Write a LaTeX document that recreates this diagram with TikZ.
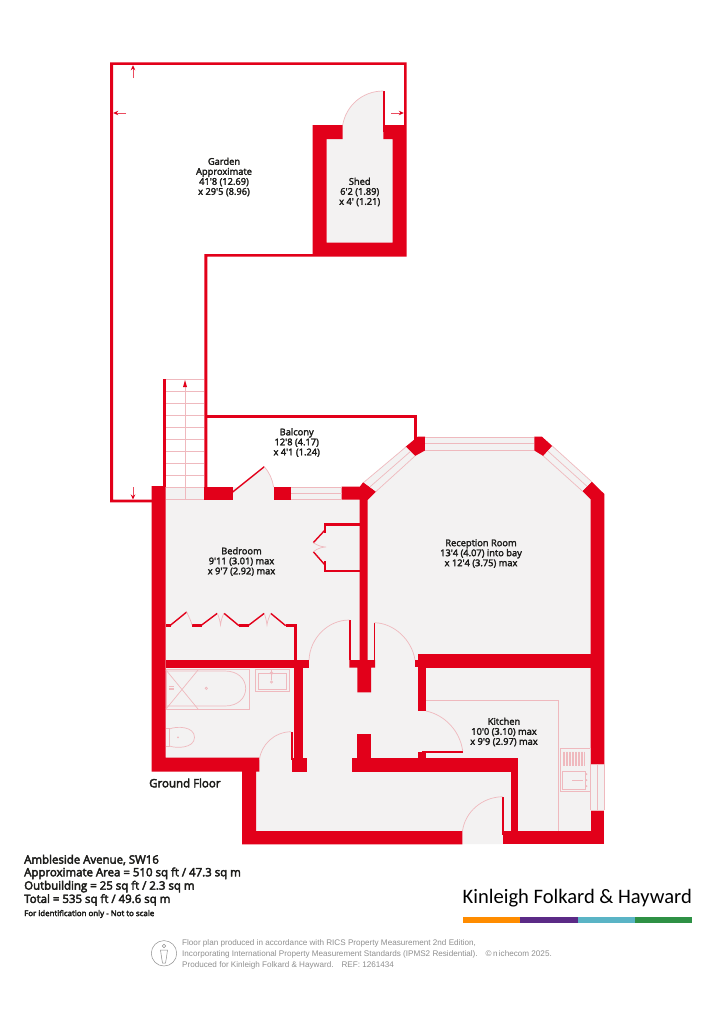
\documentclass[tikz,border=0pt]{standalone}
\usepackage{fontspec}
\setmainfont{Open Sans}
\newfontfamily\labfont{Open Sans}
\newfontfamily\boldfont{Open Sans}
\newfontfamily\footfont{Liberation Sans}
\newfontfamily\logofont{Carlito}
\newcommand{\strk}[2]{\special{pdf:code 2 Tr #1 w}#2\special{pdf:code 0 Tr}}
\usetikzlibrary{arrows.meta}
\definecolor{wallred}{HTML}{E2001A}
\definecolor{pinkline}{HTML}{EFB9BE}
\definecolor{floorgrey}{HTML}{F3F2F2}
\definecolor{inktext}{HTML}{1D1D1B}
\definecolor{footgrey}{HTML}{8F8F8F}
\tikzset{
  wall/.style={fill=wallred,draw=none},
  thinwall/.style={draw=wallred,line width=2pt,line cap=butt},
  leaf/.style={draw=wallred,line width=1.4pt},
  fine/.style={draw=pinkline,line width=0.7pt},
  floorfill/.style={fill=floorgrey,draw=none},
  dimarrow/.style={draw=wallred!70!white,line width=0.9pt,-{Stealth[length=5pt,width=4.5pt,color=wallred]}},
  roomlabel/.style={align=center,font=\labfont\fontsize{9.3}{10}\selectfont,text=inktext,inner sep=0pt},
  infoline/.style={anchor=west,font=\boldfont\fontsize{11.45}{12}\selectfont,text=inktext,inner sep=0pt},
  footline/.style={anchor=west,font=\footfont\fontsize{8.13}{10}\selectfont,text=footgrey,inner sep=0pt},
}
\begin{document}
\begin{tikzpicture}[x=1pt,y=-1pt]
\useasboundingbox (0,0) rectangle (715,1033);
\fill[white] (0,0) rectangle (715,1033);
% floor
\fill[floorfill] (152,486) -- (362,486) -- (405,447) -- (418,437) -- (541,437) -- (604,494) -- (604,844) -- (242,844) -- (242,771) -- (152,771) -- cycle;
% stairs white above the last tread
\fill[white] (166,379) rectangle (204.5,487);
\fill[white] (205,486.5) rectangle (362,380);
\fill[white] (362,486) -- (405,447) -- (360,447) -- cycle;
% shed floor and door swing
\fill[floorfill] (326.7,139) rectangle (392.7,242.7);
\fill[floorfill] (342.7,139) -- (342.7,125) .. controls (346,106) and (362,91) .. (383.3,91) -- (383.3,139) -- cycle;
% balcony door swing
\fill[floorfill] (233,487) -- (233,492) -- (264.3,466.7) .. controls (269,472) and (272.5,479) .. (273.5,487) -- cycle;
% garden outline
\fill[wall] (110,62.3) -- (406.7,62.3) -- (406.7,256.7) -- (207.3,256.7) -- (207.3,487) -- (204.3,487) -- (204.3,254) -- (312.7,254) -- (312.7,125) -- (342.7,125) -- (342.7,139) -- (326.7,139) -- (326.7,242.7) -- (392.7,242.7) -- (392.7,139) -- (383.3,139) -- (383.3,125) -- (404,125) -- (404,65) -- (113,65) -- (113,499.7) -- (152,499.7) -- (152,502.3) -- (110,502.3) -- cycle;
\draw[thinwall] (384,91) -- (384,132);
\draw[fine] (342.7,125) .. controls (346,106) and (362,91) .. (383.3,91);
% stairs
\fill[wall] (162.7,379) rectangle (165.7,487);
\foreach \yy in {379,391,403,415,427,439,451,463,475,487,499.3}{\draw[fine] (166,\yy) -- (204.3,\yy);}
\draw[fine] (185,499) -- (185,385);
\fill[wallred] (185,380) -- (187,387) -- (183,387) -- cycle;
% balcony
\fill[wall] (207,415) rectangle (416.7,417.7);
\fill[wall] (414,415) rectangle (416.7,442);
% main walls
\fill[wall] (151.7,486) -- (165.7,486) -- (165.7,757.7) -- (259.3,757.7) -- (259.3,771.7) -- (256,771.7) -- (256,831) -- (462.3,831) -- (462.3,844.3) -- (242,844.3) -- (242,771.7) -- (151.7,771.7) -- cycle;
\fill[wall] (204.3,486.5) rectangle (232.7,499.5);
\fill[wall] (273.7,486.5) rectangle (291,499.5);
\fill[wall] (341.7,486.5) -- (360,486.5) -- (363.3,482) -- (376,491.7) -- (367.5,500) -- (367.5,660) -- (375,660) -- (375,667.7) -- (371,667.7) -- (371,692.3) -- (357.3,692.3) -- (357.3,667.7) -- (349.3,667.7) -- (349.3,660) -- (359.5,660) -- (359.5,499.5) -- (341.7,499.5) -- cycle;
% bay blocks
\fill[wall] (405.7,446.7) -- (418,436.5) -- (425,436.5) -- (425,450.5) -- (415,456) -- cycle;
\fill[wall] (534.3,436.5) -- (541.7,436.5) -- (552.3,446) -- (543.3,456) -- (534.3,450.5) -- cycle;
\fill[wall] (582.3,491) -- (591.7,481.7) -- (604.3,494) -- (604.3,764.3) -- (590.7,764.3) -- (590.7,499.3) -- cycle;
\fill[wall] (590.7,810) rectangle (604.3,831);
\fill[wall] (503.3,831) rectangle (604.3,844.3);
% windows
\draw[fine] (291,487) -- (341.7,487) (291,493) -- (341.7,493) (291,499.3) -- (341.7,499.3);
\fill[floorfill] (425,437) rectangle (534.3,450.5);
\draw[fine] (425,437) -- (534.3,437) (425,443.5) -- (534.3,443.5) (425,450.5) -- (534.3,450.5);
\fill[floorfill] (363.6,482.5) -- (405.9,447) -- (415,456) -- (376,491.5) -- cycle;
\draw[fine] (363.6,482.5) -- (405.9,447) (369.8,487) -- (410.4,451.5) (376,491.5) -- (415,456);
\fill[floorfill] (552.3,446) -- (591.7,481.7) -- (582.3,491) -- (543.3,456) -- cycle;
\draw[fine] (552.3,446) -- (591.7,481.7) (547.8,451) -- (587,486.3) (543.3,456) -- (582.3,491);
\fill[floorfill] (590.7,764.3) rectangle (604.3,810);
\draw[fine] (590.7,764.3) -- (590.7,810) (597.5,764.3) -- (597.5,810) (604.3,764.3) -- (604.3,810) (590.7,764.3) -- (604.3,764.3) (590.7,810) -- (604.3,810);
% balcony door
\draw[leaf] (232.7,492) -- (264.3,466.7);
\draw[fine] (264.3,466.7) .. controls (269,472) and (272.5,479) .. (273.5,487);
% cupboard
\fill[wall] (324,523) rectangle (359.5,525.5);
\fill[wall] (324,569.7) rectangle (359.5,572.2);
\fill[wall] (324,523) rectangle (326.3,533);
\fill[wall] (324,561) rectangle (326.3,572);
\draw[leaf] (325,530) -- (313.3,542.7);
\draw[leaf] (325,565) -- (313.3,551.7);
\draw[fine] (313.3,542.7) .. controls (318,546) and (323,547) .. (326,547) .. controls (323,547) and (318,548) .. (313.3,551.7);
% wardrobe
\fill[wall] (165.7,624.2) rectangle (170.7,626.6);
\fill[wall] (191.7,624.2) rectangle (201.7,626.6);
\fill[wall] (239,624.2) rectangle (249,626.6);
\fill[wall] (285.7,624.2) rectangle (296.7,626.6);
\fill[wall] (294.4,624.2) rectangle (296.7,660);
\draw[leaf] (170.7,625) -- (186.7,612);
\draw[leaf] (201.7,625) -- (217.3,613.3);
\draw[leaf] (224,613.3) -- (239,625.7);
\draw[leaf] (249,625) -- (264.3,613.3);
\draw[leaf] (270.7,613.3) -- (285.7,625.7);
\draw[fine] (186.7,612) .. controls (189,617) and (191,621) .. (192,625);
\draw[fine] (217.3,613.3) .. controls (219,617) and (220,621) .. (220.5,625) .. controls (221,621) and (222,617) .. (224,613.3);
\draw[fine] (264.3,613.3) .. controls (265.5,617) and (266.5,621) .. (267,625) .. controls (267.5,621) and (269,617) .. (270.7,613.3);
% bedroom / bathroom wall
\fill[wall] (165.7,660) rectangle (309,667.7);
\fill[wall] (294.3,667.7) rectangle (302.7,760);
\fill[wall] (291.7,758) rectangle (307.3,771.7);
\fill[wall] (290.7,731.7) rectangle (292.7,760);
% hall doors
\fill[wall] (349,620) rectangle (351,660);
\fill[wall] (373.5,622.7) rectangle (375.3,660);
\draw[fine] (349.3,620) .. controls (328,620) and (310,638) .. (309,660);
\draw[fine] (374.3,622.7) .. controls (394,623) and (412,640) .. (415,660);
\draw[fine] (291,731.7) .. controls (274,732) and (261,745) .. (259.3,760);
% kitchen walls
\fill[wall] (415,660) rectangle (420,667);
\fill[wall] (417.5,654.3) rectangle (604.3,668.3);
\fill[wall] (417.7,668) rectangle (426,711);
\fill[wall] (352.3,757.7) rectangle (518.3,771.7);
\fill[wall] (510.7,771.7) rectangle (518.3,831);
\fill[wall] (357.3,734) rectangle (371,758);
\fill[wall] (417.7,752.3) rectangle (426,758);
\fill[wall] (421.7,750.7) rectangle (462.7,752.5);
\draw[fine] (426,711) .. controls (445,715) and (460,731) .. (462.7,751);
\fill[wall] (502,796.7) rectangle (503.8,835);
\draw[fine] (502.7,796.7) .. controls (482,797) and (465,812) .. (462.5,831);
% kitchen counter
\draw[fine] (426,700.7) -- (558.3,700.7) -- (558.3,831);
\draw[fine] (560,748.3) rectangle (590,791.7);
\foreach \xx in {563,564.5,...,585}{\draw[draw=pinkline,line width=0.8pt] (\xx,751.7) -- (\xx,766);}
\draw[fine] (562.3,771) rectangle (585,789.3);
\draw[fine] (572,780) -- (583,780);
\fill[pinkline] (586.5,774) circle (1) (586.5,780) circle (1) (586.5,786) circle (1);
% bath
\draw[fine] (166,669.3) rectangle (249,709.3);
\draw[fine] (166,671) -- (225,671) .. controls (238,671) and (245.7,679) .. (245.7,688.5) .. controls (245.7,698) and (238,706) .. (225,706) -- (166,706);
\draw[fine] (166,670) -- (198,709) (198,670) -- (166,709);
\draw[fine] (206.3,688.3) circle (1.2);
\draw[fine] (169,688.3) -- (174,688.3) (169,686.8) -- (174,686.8) (169,689.8) -- (174,689.8);
% sink
\draw[fine] (255.7,669) rectangle (289,691);
\draw[fine] (258,673) rectangle (286.5,689);
\draw[fine] (271.5,673) circle (1.5) (271.5,682) circle (1.2);
\draw[fine] (271.5,670) -- (271.5,680);
% toilet
\draw[fine] (166,728.5) -- (169.5,728.5) -- (169.5,746) -- (166,746);
\draw[fine] (169.5,729) .. controls (176,726) and (194.5,726) .. (194.5,737.3) .. controls (194.5,748.5) and (176,748.5) .. (169.5,746);
\fill[pinkline] (178,737.3) circle (1);
% garden arrows
\draw[dimarrow] (133,78) -- (133,65.2);
\draw[dimarrow] (126,113) -- (113.2,113);
\draw[dimarrow] (391,113) -- (403.8,113);
\draw[dimarrow] (133,487) -- (133,499.5);
% labels
\node[roomlabel] (garden) at (224,177) {\strk{0.25}{Garden}\\\strk{0.25}{Approximate}\\\strk{0.25}{41'8 (12.69)}\\\strk{0.25}{x 29'5 (8.96)}};
\node[roomlabel] (shed) at (359.7,192) {\strk{0.25}{Shed}\\\strk{0.25}{6'2 (1.89)}\\\strk{0.25}{x 4' (1.21)}};
\node[roomlabel] (balcony) at (296.7,442.5) {\strk{0.25}{Balcony}\\\strk{0.25}{12'8 (4.17)}\\\strk{0.25}{x 4'1 (1.24)}};
\node[roomlabel] (bedroom) at (241.5,561.5) {\strk{0.25}{Bedroom}\\\strk{0.25}{9'11 (3.01) max}\\\strk{0.25}{x 9'7 (2.92) max}};
\node[roomlabel] (reception) at (481,553.5) {\strk{0.25}{Reception Room}\\\strk{0.25}{13'4 (4.07) into bay}\\\strk{0.25}{x 12'4 (3.75) max}};
\node[roomlabel] (kitchen) at (504,732) {\strk{0.25}{Kitchen}\\\strk{0.25}{10'0 (3.10) max}\\\strk{0.25}{x 9'9 (2.97) max}};
\node[anchor=west,font=\boldfont\fontsize{11.5}{12}\selectfont,text=inktext,inner sep=0pt] (ground) at (149,783) {\strk{0.4}{Ground Floor}};
\node[infoline] (i1) at (24,860) {\strk{0.4}{Ambleside Avenue, SW16}};
\node[infoline] (i2) at (24,873.3) {\strk{0.4}{Approximate Area = 510 sq ft / 47.3 sq m}};
\node[infoline] (i3) at (24,886.6) {\strk{0.4}{Outbuilding = 25 sq ft / 2.3 sq m}};
\node[infoline] (i4) at (24,899.9) {\strk{0.4}{Total = 535 sq ft / 49.6 sq m}};
\node[anchor=west,font=\boldfont\fontsize{7.9}{9}\selectfont,text=inktext,inner sep=0pt] (i5) at (24,914) {\strk{0.3}{For identification only - Not to scale}};
% footer
\node[footline] (f1) at (182,943.5) {Floor plan produced in accordance with RICS Property Measurement 2nd Edition,};
\node[footline] (f2) at (182,954) {Incorporating International Property Measurement Standards (IPMS2 Residential).\hspace{8pt}\textcopyright\,n\,ichecom 2025.};
\node[footline] (f3) at (182,965) {Produced for Kinleigh Folkard \& Hayward.\hspace{8pt}REF: 1261434};
\draw[draw=footgrey,line width=0.5pt] (164,953.3) circle (12.7);
\draw[draw=footgrey,line width=0.5pt] (164,946) circle (1.8);
\draw[draw=footgrey,line width=0.5pt] (160.5,950) -- (167.5,950) -- (166.5,957) -- (165.5,963) -- (162.5,963) -- (161.5,957) -- cycle;
% logo
\node[anchor=west,font=\logofont\fontsize{20.55}{22}\selectfont,text=black,inner sep=0pt] (logo) at (462.5,898.5) {Kinleigh Folkard \& Hayward};
\fill[fill=orange!90!yellow] (463.3,916.7) rectangle (520.3,923.3);
\fill[fill={rgb,255:red,91;green,42;blue,134}] (520.3,916.7) rectangle (577.7,923.3);
\fill[fill={rgb,255:red,90;green,180;blue,197}] (577.7,916.7) rectangle (634.7,923.3);
\fill[fill={rgb,255:red,46;green,145;blue,69}] (634.7,916.7) rectangle (691.7,923.3);
\end{tikzpicture}
\end{document}
